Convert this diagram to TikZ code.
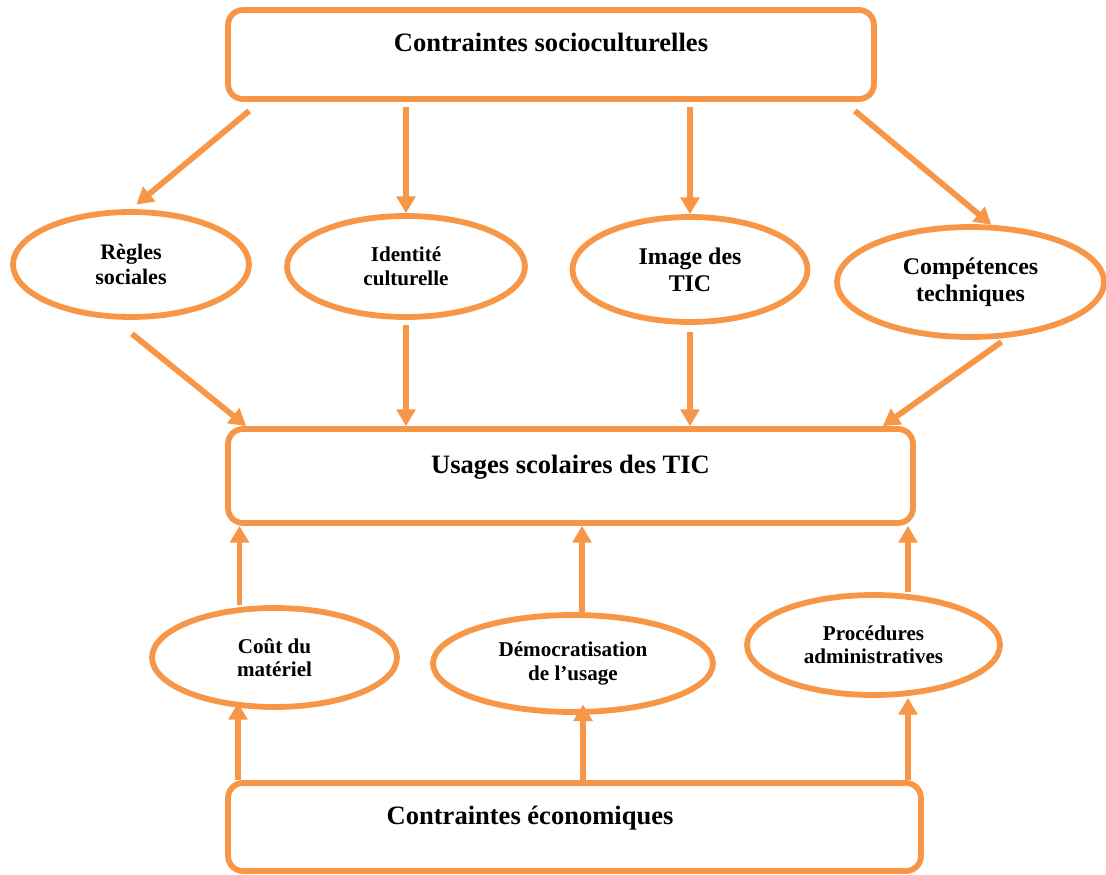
\documentclass[tikz,border=0pt]{standalone}
\usepackage{fontspec}
\setmainfont{Liberation Serif}
\usepackage{xcolor}
\usepackage{tikz}
\usetikzlibrary{shapes,arrows.meta,calc}
\definecolor{orangeline}{HTML}{F79646}
\tikzstyle{frame}=[draw=orangeline,line width=3.3pt,rounded corners=8.5pt,inner sep=0pt,font=\bfseries\fontsize{15.1}{17}\selectfont,text height=10.3pt,text depth=13.7pt]
\tikzstyle{bubble}=[ellipse,draw=orangeline,line width=3.3pt,inner sep=0pt,align=center]
\tikzstyle{bigtext}=[font=\bfseries\fontsize{13.6}{15.4}\selectfont]
\tikzstyle{midtext}=[font=\bfseries\fontsize{12.6}{14.6}\selectfont]
\tikzstyle{smalltext}=[font=\bfseries\fontsize{12}{13.4}\selectfont]
\tikzstyle{edge}=[draw=orangeline,line width=3.3pt,-{Triangle[width=10.5pt,length=9.5pt]}]

\begin{document}
\begin{tikzpicture}[x=0.02cm,y=-0.02cm]

\useasboundingbox (0,0) rectangle (1106,875);

%boxes
\node[frame,minimum width=12.92cm,minimum height=1.78cm] (socio) at (551,54.5) {Contraintes socioculturelles};
\node[frame,minimum width=13.7cm,minimum height=1.88cm] (usages) at (570.5,476) {Usages scolaires des TIC};
\node[frame,minimum width=13.86cm,minimum height=1.76cm] (eco) at (574.5,827) {Contraintes économiques\hspace*{50.6pt}};

%layer 1
    \foreach \pos/\name/\bw/\bh/\sty/\label in {{(131,264.5)/regles/4.72/2.1/midtext/{Règles\\sociales}},
        {(406,266.5)/identite/4.76/2.02/smalltext/{Identité\\culturelle}},
        {(690,269.5)/image/4.7/2.1/bigtext/{Image des\\TIC}},
        {(970.5,282)/competences/5.34/2.2/bigtext/{Compétences\\techniques}}}
        \node[bubble,\sty,minimum width=\bw cm,minimum height=\bh cm] (\name) at \pos {\label};

%layer 2
    \foreach \pos/\name/\bw/\bh/\label in {{(274.5,657.5)/cout/4.9/1.98/{Coût du\\matériel}},
        {(573,663.5)/democ/5.6/1.94/{Démocratisation\\de l’usage}},
        {(873.5,645)/proc/5.06/2.0/{Procédures\\administratives}}}
        \node[bubble,smalltext,minimum width=\bw cm,minimum height=\bh cm] (\name) at \pos {\label};

% socioculturelles -> layer 1
\draw[edge,shorten >=4pt] ($(socio.south west)+(24,9)$) -- (regles.north);
\draw[edge,shorten <=3pt] (socio.south -| identite.north) -- (identite.north);
\draw[edge,shorten <=3pt] (socio.south -| image.north) -- (image.north);
\draw[edge] ($(socio.south east)+(-22,9)$) -- (competences.70);

% layer 1 -> usages
\draw[edge] ($(regles.south)+(1,14)$) -- ($(usages.north west)+(21,0)$);
\draw[edge,shorten <=3pt] (identite.south) -- (identite.south |- usages.north);
\draw[edge,shorten <=4pt] (image.south) -- (image.south |- usages.north);
\draw[edge] ($(competences.south)+(31,2)$) -- ($(usages.north east)+(-33,0)$);

% layer 2 -> usages
    \foreach \src/\dx in {cout/-0.7, democ/0.18, proc/0.69} {
        \coordinate (\src-up) at ([xshift=\dx cm]\src.north);
        \draw[edge] (\src-up) -- (\src-up |- usages.south);
    }

% economiques -> layer 2
    \foreach \dest/\dx/\dy in {cout/-0.73/4, democ/0.2/6, proc/0.69/0} {
        \coordinate (\dest-dn) at ([xshift=\dx cm,yshift=\dy pt]\dest.south);
        \draw[edge] (\dest-dn |- eco.north) -- (\dest-dn);
    }

\end{tikzpicture}
\end{document}
